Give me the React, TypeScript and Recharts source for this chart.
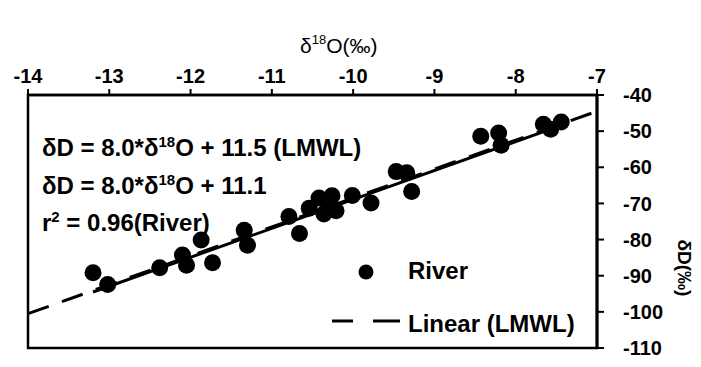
import React from "react";
import {
  ComposedChart,
  Scatter,
  XAxis,
  YAxis,
  ReferenceArea,
  ReferenceLine,
} from "recharts";

// δ18O (‰) of river samples
const riverO18 = [
  -13.2, -13.02, -12.38, -12.1, -12.05, -11.87, -11.73, -11.34, -11.3, -10.79,
  -10.66, -10.54, -10.42, -10.36, -10.29, -10.26, -10.21, -10.01, -9.78, -9.47,
  -9.34, -9.28, -8.43, -8.21, -8.18, -7.66, -7.57, -7.44,
];
// δD (‰) of river samples
const riverD = [
  -89.2, -92.4, -87.8, -84.3, -87.1, -80.1, -86.4, -77.4, -81.6, -73.6, -78.3,
  -71.3, -68.5, -72.9, -70.5, -67.9, -72.0, -67.8, -69.9, -61.2, -61.5, -66.7,
  -51.4, -50.5, -53.9, -48.1, -49.5, -47.5,
];

const xTicks = [-14, -13, -12, -11, -10, -9, -8, -7];
const yTicks = [-110, -100, -90, -80, -70, -60, -50, -40];

// Regression lines: δD = slope * δ18O + intercept
const lmwlSlope = 8.0;
const lmwlIntercept = 11.5;
const lmwlRange = [-14, -7];
const riverSlope = 8.0;
const riverIntercept = 11.1;
const riverRange = [-13.2, -7.44];

const points = riverO18.map((x, i) => ({ x, y: riverD[i] }));
const seg = (slope: number, icpt: number, r: number[]) =>
  r.map((x) => ({ x, y: slope * x + icpt }));

const FONT = "'Liberation Sans', Arial, sans-serif";

const Dot = (props: any) => (
  <circle cx={props.cx} cy={props.cy} r={8.5} fill="#000" />
);

export default function App() {
  return (
    <div style={{ position: "absolute", left: 0, top: 0, background: "#fff" }}>
      <ComposedChart
        width={701}
        height={367}
        margin={{ top: 55, right: 44, bottom: 19, left: 28 }}
        style={{ fontFamily: FONT }}
      >
        <XAxis
          dataKey="x"
          type="number"
          orientation="top"
          domain={[-14, -7]}
          ticks={xTicks}
          interval={0}
          height={40}
          tickSize={6}
          tickMargin={6}
          axisLine={{ stroke: "#000", strokeWidth: 2.5 }}
          tickLine={{ stroke: "#000", strokeWidth: 2 }}
          tick={{ fill: "#000", fontSize: 20, fontWeight: "bold", fontFamily: FONT }}
          allowDataOverflow
        />
        <YAxis
          dataKey="y"
          type="number"
          orientation="right"
          domain={[-110, -40]}
          ticks={yTicks}
          interval={0}
          width={60}
          tickSize={7}
          tickMargin={19}
          axisLine={{ stroke: "#000", strokeWidth: 3 }}
          tickLine={{ stroke: "#000", strokeWidth: 2 }}
          tick={{ fill: "#000", fontSize: 20, fontWeight: "bold", fontFamily: FONT, textAnchor: "start" }}
          allowDataOverflow
        />
        <ReferenceArea
          x1={-14}
          x2={-7}
          y1={-110}
          y2={-40}
          fill="none"
          stroke="#000"
          strokeWidth={2.5}
          fillOpacity={0}
        />
        <ReferenceLine
          segment={seg(lmwlSlope, lmwlIntercept, lmwlRange)}
          stroke="#000"
          strokeWidth={3}
          strokeDasharray="22 14"
        />
        <ReferenceLine
          segment={seg(riverSlope, riverIntercept, riverRange)}
          stroke="#000"
          strokeWidth={3}
        />
        <Scatter
          data={points}
          dataKey="y"
          shape={Dot}
          isAnimationActive={false}
        />
        {/* axis titles */}
        <text x={300} y={53} fontSize={21} fontFamily={FONT} fill="#000">
          δ<tspan fontSize={13} dy={-9}>18</tspan>
          <tspan dy={9}>O(‰)</tspan>
        </text>
        <text
          x={678}
          y={268}
          fontSize={19}
          fontWeight="bold"
          fontFamily={FONT}
          fill="#000"
          textAnchor="middle"
          transform="rotate(90 678 268)"
        >
          δD(‰)
        </text>
        {/* equations */}
        <g fontSize={24} fontWeight="bold" fontFamily={FONT} fill="#000">
          <text x={42} y={156}>
            δD = 8.0*δ<tspan fontSize={15} dy={-9}>18</tspan>
            <tspan dy={9}>O + 11.5 (LMWL)</tspan>
          </text>
          <text x={42} y={194}>
            δD = 8.0*δ<tspan fontSize={15} dy={-9}>18</tspan>
            <tspan dy={9}>O + 11.1</tspan>
          </text>
          <text x={42} y={231}>
            r<tspan fontSize={15} dy={-9}>2</tspan>
            <tspan dy={9}> = 0.96(River)</tspan>
          </text>
        </g>
        {/* legend */}
        <circle cx={366} cy={272} r={7.5} fill="#000" />
        <text x={408} y={279} fontSize={24} fontWeight="bold" fontFamily={FONT} fill="#000">
          River
        </text>
        <line x1={332} y1={321} x2={353} y2={321} stroke="#000" strokeWidth={3} />
        <line x1={373} y1={321} x2={400} y2={321} stroke="#000" strokeWidth={3} />
        <text x={408} y={332} fontSize={24} fontWeight="bold" fontFamily={FONT} fill="#000">
          Linear (LMWL)
        </text>
      </ComposedChart>
    </div>
  );
}
